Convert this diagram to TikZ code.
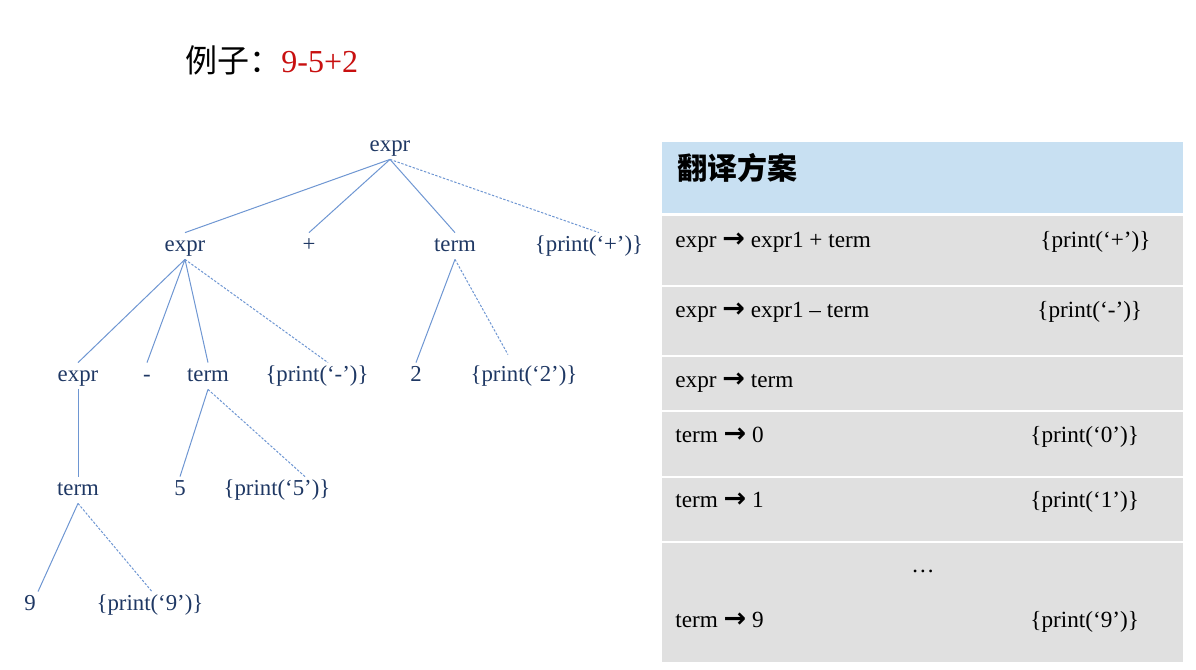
\documentclass[tikz,border=0pt]{standalone}
\usepackage{fontspec}
\setmainfont{Liberation Serif}
\newfontfamily\cjk{Noto Sans CJK SC}
\newfontfamily\arrowfont{DejaVu Sans}
\definecolor{treetext}{RGB}{31,56,100}
\definecolor{treeline}{RGB}{110,150,210}
\definecolor{headblue}{RGB}{200,224,242}
\definecolor{rowgray}{RGB}{224,224,224}
\definecolor{titlered}{RGB}{200,16,16}
\newcommand{\goes}{{\arrowfont\bfseries\fontsize{13.5}{13}\selectfont →}}
\tikzset{
  sym/.style={text=treetext, font=\fontsize{11.4}{13}\selectfont,
    text height=0.75em, text depth=0.25em, inner xsep=1pt, inner ysep=1.5pt},
  treeedge/.style={draw=treeline, line width=0.5pt},
  actedge/.style={treeedge, dash pattern=on 1.2pt off 0.8pt},
  prodtext/.style={anchor=base west, font=\fontsize{11.6}{13}\selectfont, inner sep=0},
}
\begin{document}
\begin{tikzpicture}[x=0.5pt, y=-0.5pt]
    \useasboundingbox (0,0) rectangle (1196,670);

    % Title
    \node[anchor=base west, inner sep=0, font=\fontsize{16}{18}\selectfont] (title) at (185,72)
        {{\cjk 例子：}\textcolor{titlered}{9-5+2}};

    % Parse tree
    \node[sym] (root) at (390,146) {expr};

    \node[sym] (e1) at (185,246) {expr};
    \node[sym] (plus) at (309,246) {+};
    \node[sym] (t1) at (455,246) {term};
    \node[sym] (pplus) at (589,246) {\{print(‘+’)\}};

    \node[sym] (e2) at (78,376) {expr};
    \node[sym] (minus) at (147,376) {-};
    \node[sym] (t2) at (208,376) {term};
    \node[sym] (pminus) at (317,376) {\{print(‘-’)\}};
    \node[sym] (two) at (416,376) {2};
    \node[sym] (ptwo) at (524,376) {\{print(‘2’)\}};

    \node[sym] (t3) at (78,490) {term};
    \node[sym] (five) at (180,490) {5};
    \node[sym] (pfive) at (277,490) {\{print(‘5’)\}};

    \node[sym] (nine) at (30,605) {9};
    \node[sym] (pnine) at (150,605) {\{print(‘9’)\}};

    % Tree edges
    \foreach \x in {e1, plus, t1}
        \draw[treeedge] (root.south) -- (\x.north);
    \draw[actedge] (root.south) -- ([xshift=5pt]pplus.north);
    \foreach \x in {e2, minus, t2}
        \draw[treeedge] (e1.south) -- (\x.north);
    \draw[actedge] (e1.south) -- ([xshift=5.5pt]pminus.north);
    \draw[treeedge] (t1.south) -- (two.north);
    \draw[actedge] (t1.south) -- ([xshift=-8pt,yshift=4pt]ptwo.north);
    \draw[treeedge] (e2.south) -- (t3.north);
    \draw[treeedge] (t2.south) -- (five.north);
    \draw[actedge] (t2.south) -- ([xshift=14pt]pfive.north);
    \draw[treeedge] (t3.south) -- ([xshift=4pt]nine.north);
    \draw[actedge] (t3.south) -- ([xshift=1pt]pnine.north);

    % Translation scheme table
    \fill[headblue] (662,142) rectangle (1183,213);
    \foreach \ya/\yb in {216/285, 287/355, 357/410, 412/476, 478/541, 543/662}
        \fill[rowgray] (662,\ya) rectangle (1183,\yb);
    \node[anchor=base west, inner sep=0, font=\cjk\bfseries\fontsize{15}{17}\selectfont] (head) at (677,179)
        {翻译方案};

    \node[prodtext] (r1l) at (675,247) {expr \goes{} expr1 + term};
    \node[prodtext] (r1r) at (1040,247) {\{print(‘+’)\}};
    \node[prodtext] (r2l) at (675,317) {expr \goes{} expr1 – term};
    \node[prodtext] (r2r) at (1037,317) {\{print(‘-’)\}};
    \node[prodtext] (r3l) at (675,387) {expr \goes{} term};
    \node[prodtext] (r4l) at (675,442) {term \goes{} 0};
    \node[prodtext] (r4r) at (1030,442) {\{print(‘0’)\}};
    \node[prodtext] (r5l) at (675,507) {term \goes{} 1};
    \node[prodtext] (r5r) at (1030,507) {\{print(‘1’)\}};
    \node[prodtext, anchor=base] (dots) at (923,572) {…};
    \node[prodtext] (r7l) at (675,627) {term \goes{} 9};
    \node[prodtext] (r7r) at (1030,627) {\{print(‘9’)\}};

\end{tikzpicture}
\end{document}
